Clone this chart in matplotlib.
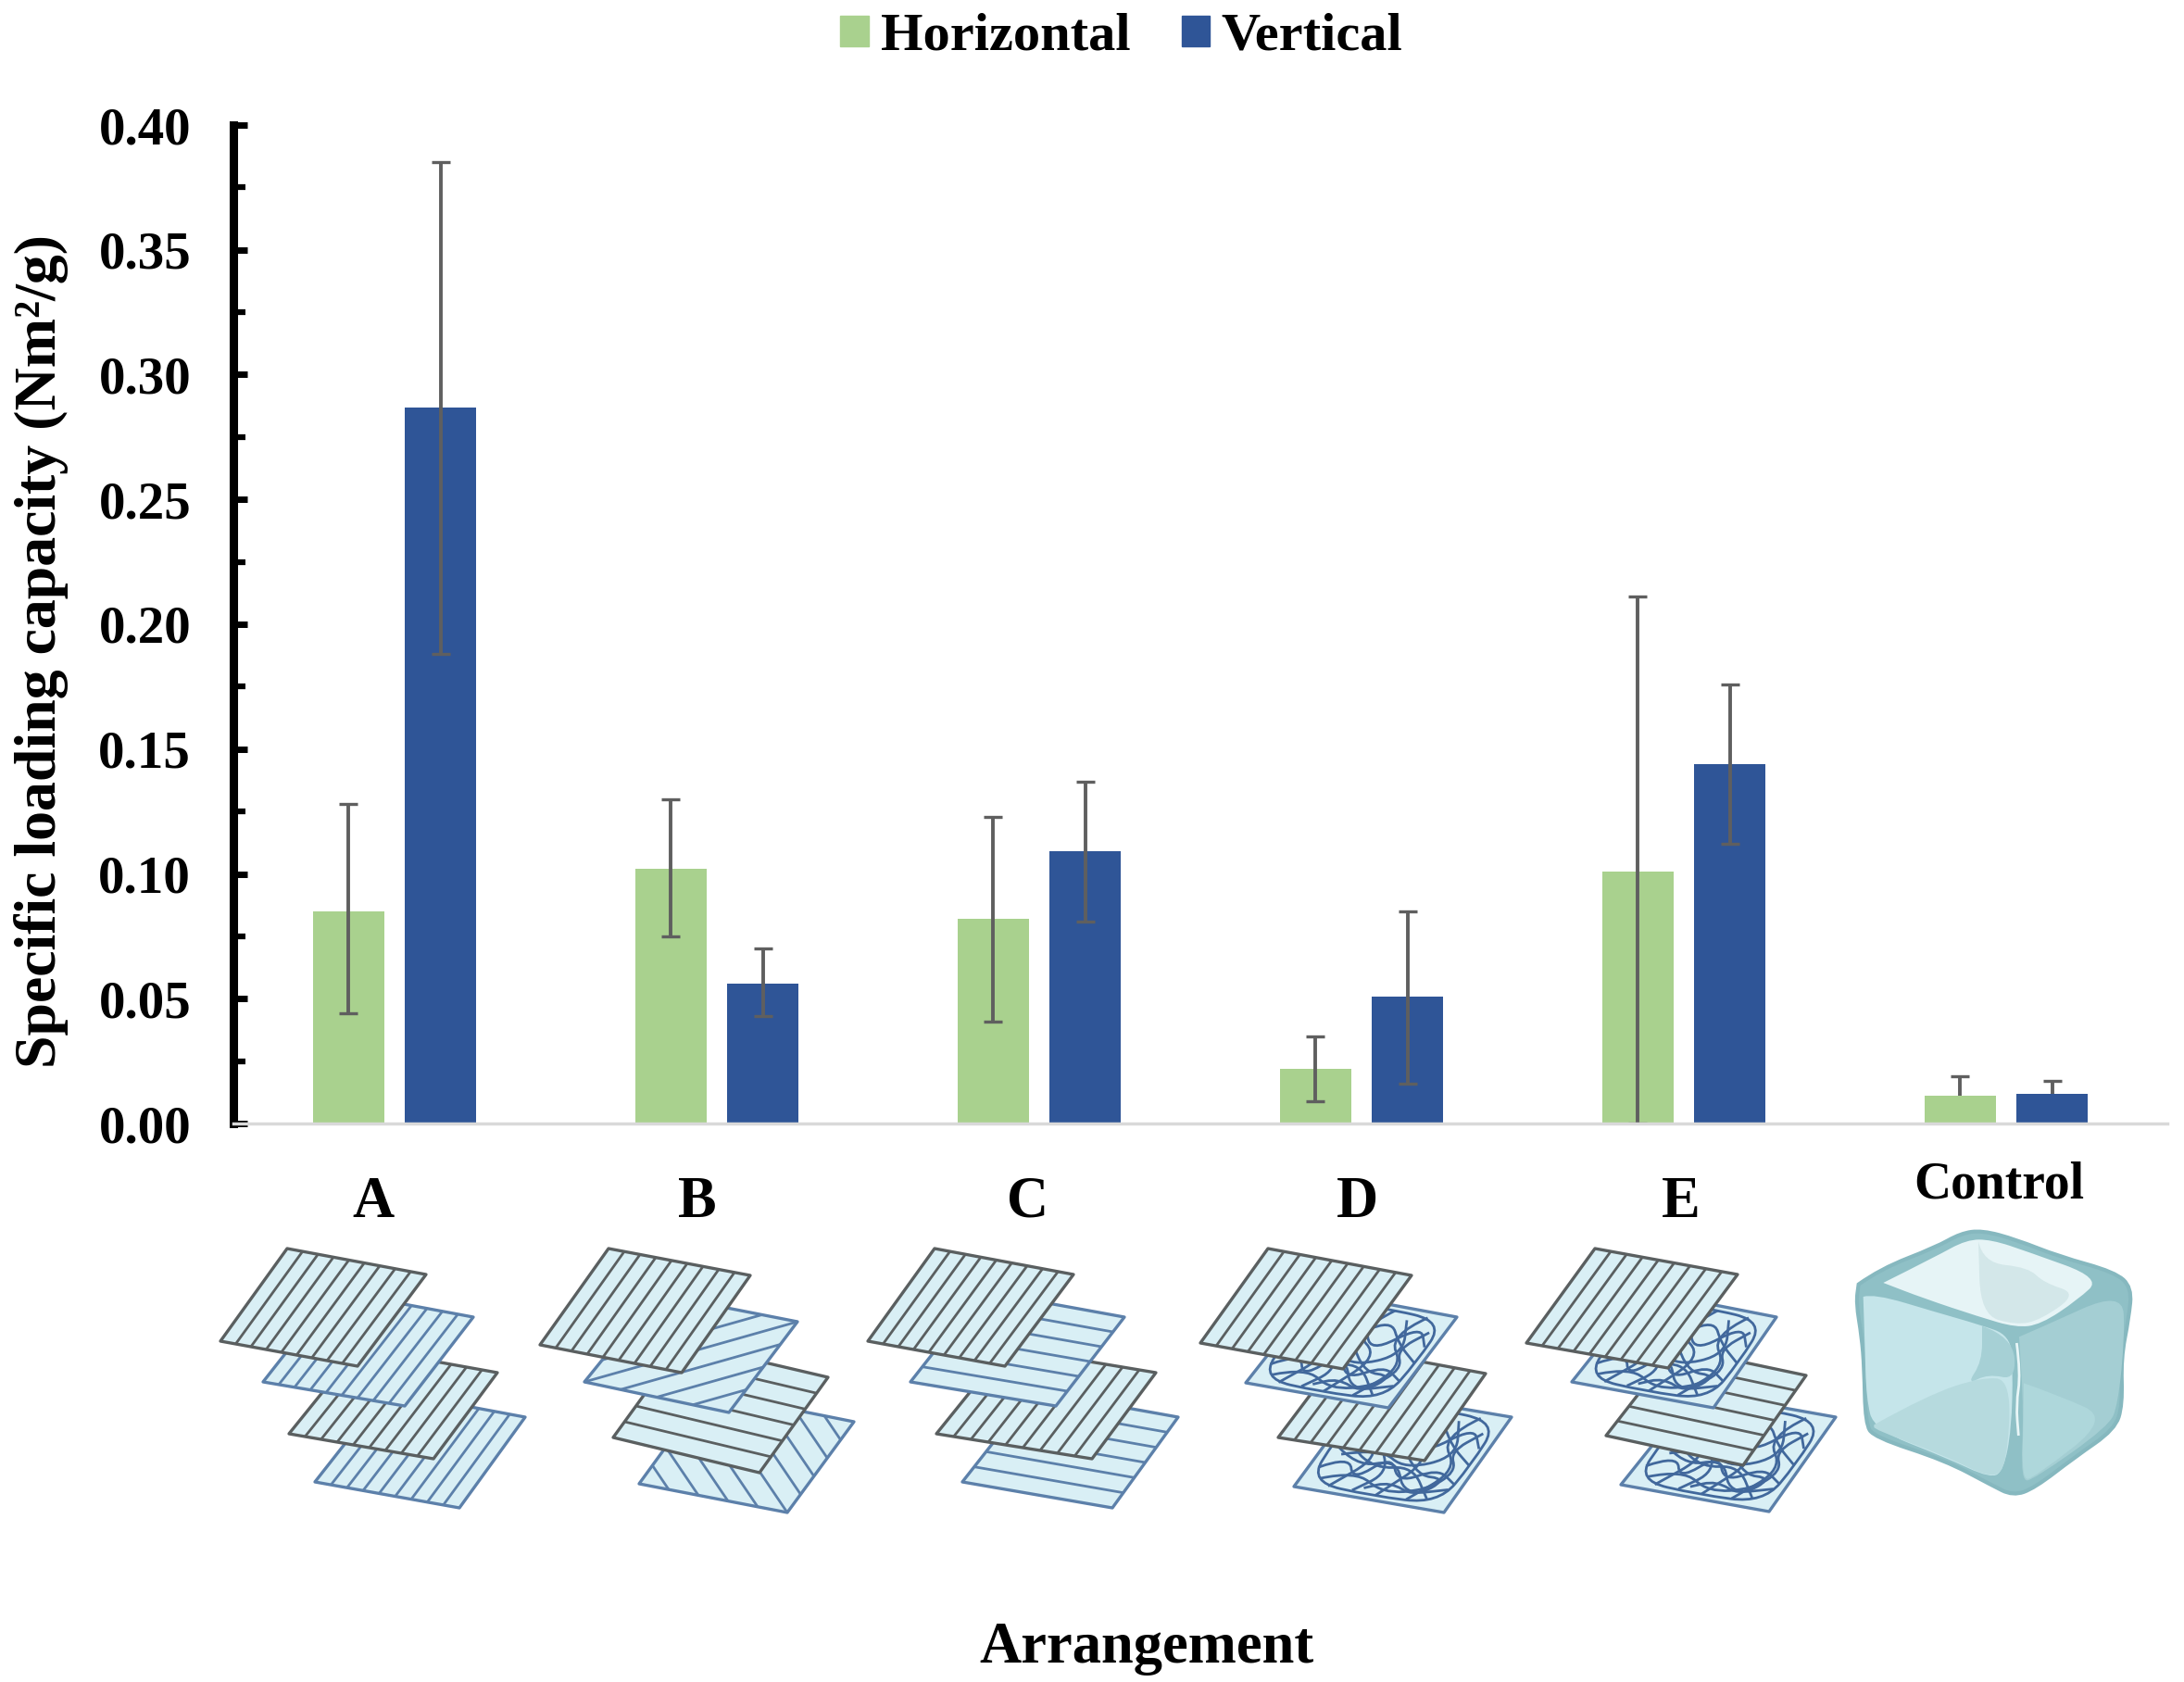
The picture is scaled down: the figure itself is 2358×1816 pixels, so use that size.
import numpy as np
import matplotlib
matplotlib.use('Agg')
import matplotlib.pyplot as plt
from matplotlib.patches import Patch, Polygon, PathPatch
from matplotlib.path import Path
from matplotlib.ticker import MultipleLocator, FormatStrFormatter

plt.rcParams['font.family'] = ['Liberation Serif', 'DejaVu Serif']
plt.rcParams['font.weight'] = 'bold'

W, H = 2358, 1816

# data, control only has the upper whisker
categories = ['A', 'B', 'C', 'D', 'E', 'Control']
horizontal = [0.085, 0.102, 0.082, 0.022, 0.101, 0.011]
horizontal_low = [0.044, 0.075, 0.041, 0.009, 0.000, 0.011]
horizontal_high = [0.128, 0.130, 0.123, 0.035, 0.211, 0.019]
vertical = [0.287, 0.056, 0.109, 0.051, 0.144, 0.012]
vertical_low = [0.188, 0.043, 0.081, 0.016, 0.112, 0.012]
vertical_high = [0.385, 0.070, 0.137, 0.085, 0.176, 0.017]

GREEN = '#a9d18e'
BLUE = '#2f5597'
ERR = '#5f5f5f'
SHEET = '#d9eff5'
EDGE_GREY = '#5a5f60'
EDGE_BLUE = '#5c80aa'

fig = plt.figure(figsize=(W / 100, H / 100), dpi=100)
ax = fig.add_axes([252 / W, 1 - 1213 / H, 2088 / W, 1078 / H])

x = np.arange(len(categories))
offset = 0.1427
width = 0.221
err_kw = dict(ecolor=ERR, elinewidth=2.8, capsize=7, capthick=2.4)
bars_h = ax.bar(x - offset, horizontal, width, color=GREEN, label='Horizontal',
                yerr=[np.array(horizontal) - np.array(horizontal_low),
                      np.array(horizontal_high) - np.array(horizontal)], error_kw=err_kw)
bars_v = ax.bar(x + offset, vertical, width, color=BLUE, label='Vertical',
                yerr=[np.array(vertical) - np.array(vertical_low),
                      np.array(vertical_high) - np.array(vertical)], error_kw=err_kw)

# drop the lower cap on the control bars
for bars, values in [(bars_h, horizontal), (bars_v, vertical)]:
    for cap in bars.errorbar.lines[1]:
        ydata = np.array(cap.get_ydata(), dtype=float)
        if ydata[5] <= values[5]:
            ydata[5] = np.nan
            cap.set_ydata(ydata)

ax.set_xlim(-0.5, 5.5)
ax.set_ylim(0, 0.40)
ax.set_xticks([])
ax.yaxis.set_major_locator(MultipleLocator(0.05))
ax.yaxis.set_minor_locator(MultipleLocator(0.025))
ax.yaxis.set_major_formatter(FormatStrFormatter('%.2f'))
ax.tick_params(axis='y', which='major', direction='in', length=11, width=5,
               labelsize=41, pad=33, color='black')
ax.tick_params(axis='y', which='minor', direction='in', length=9, width=4.5, color='black')
ax.yaxis.get_major_ticks()[0].tick1line.set_color('#b5b5b5')
ax.spines['top'].set_visible(False)
ax.spines['right'].set_visible(False)
ax.spines['left'].set_linewidth(6.5)
ax.spines['bottom'].set_color('#d9d9d9')
ax.spines['bottom'].set_linewidth(2.5)

# legend on top
handles = [Patch(color=GREEN, label='Horizontal'), Patch(color=BLUE, label='Vertical')]
fig.legend(handles=handles, loc='center', bbox_to_anchor=(1211 / W, 1 - 40 / H), ncol=2,
           frameon=False, fontsize=42, handlelength=0.52, handleheight=0.48,
           handletextpad=0.22, columnspacing=0.95)

# overlay in pixel coordinates for the labels and the sketches
ov = fig.add_axes([0, 0, 1, 1], zorder=5)
ov.set_xlim(0, W)
ov.set_ylim(H, 0)
ov.axis('off')
ov.patch.set_alpha(0)

fig.text(45 / W, 1 - 703 / H, 'Specific loading capacity (Nm²/g)', rotation=90,
         fontsize=46, ha='center', va='center')
ov.text(1238, 1780, 'Arrangement', fontsize=45, ha='center', va='center')

label_x = [403, 753, 1110, 1465, 1815, 2158]
label_y = [1299, 1299, 1299, 1299, 1299, 1280]
label_size = [45, 45, 45, 45, 45, 40]
for name, lx, ly, ls in zip(categories, label_x, label_y, label_size):
    ov.text(lx, ly, name, fontsize=ls, ha='center', va='center')

# wavy fibres of the random sheets, in sheet coordinates
tangle_curves = [
    [(0.06, 0.07), (0.5, 0.04), (0.94, 0.07), (0.96, 0.5), (0.93, 0.93), (0.5, 0.96), (0.07, 0.93), (0.04, 0.5), (0.06, 0.07)],
    [(0.06, 0.78), (0.2, 0.62), (0.32, 0.85), (0.45, 0.55), (0.6, 0.8), (0.78, 0.6), (0.94, 0.72)],
    [(0.08, 0.25), (0.25, 0.48), (0.45, 0.2), (0.62, 0.5), (0.82, 0.15), (0.94, 0.35)],
    [(0.28, 0.06), (0.16, 0.35), (0.38, 0.58), (0.2, 0.94)],
    [(0.58, 0.05), (0.42, 0.32), (0.7, 0.52), (0.52, 0.95)],
    [(0.82, 0.06), (0.66, 0.3), (0.9, 0.58), (0.72, 0.94)],
    [(0.05, 0.52), (0.28, 0.72), (0.5, 0.58), (0.68, 0.9), (0.93, 0.78)],
    [(0.42, 0.06), (0.6, 0.28), (0.32, 0.44), (0.5, 0.72), (0.36, 0.94)],
    [(0.12, 0.88), (0.3, 0.75), (0.55, 0.92), (0.8, 0.82), (0.9, 0.6), (0.78, 0.42), (0.9, 0.2)],
    [(0.05, 0.38), (0.22, 0.2), (0.4, 0.42), (0.6, 0.14), (0.76, 0.36), (0.95, 0.52)],
    [(0.14, 0.62), (0.35, 0.5), (0.58, 0.66), (0.84, 0.46), (0.7, 0.12)],
    [(0.1, 0.12), (0.3, 0.3), (0.15, 0.52), (0.4, 0.7), (0.62, 0.62), (0.84, 0.9)],
    [(0.48, 0.44), (0.66, 0.7), (0.88, 0.68), (0.76, 0.9), (0.55, 0.8), (0.42, 0.9)],
]


def smooth_path(points, closed=False):
    pts = [np.array(p, dtype=float) for p in points]
    verts = [pts[0]]
    codes = [Path.MOVETO]
    for a, b in zip(pts[1:-1], pts[2:]):
        verts += [a, (a + b) / 2]
        codes += [Path.CURVE3, Path.CURVE3]
    verts += [pts[-1]]
    codes += [Path.LINETO]
    if closed:
        verts.append(pts[0])
        codes.append(Path.CLOSEPOLY)
    return Path(verts, codes)


def sheet(corners, kind, edge, z):
    tl, tr, br, bl = [np.array(c, dtype=float) for c in corners]

    def pt(u, v):
        return (1 - v) * ((1 - u) * tl + u * tr) + v * ((1 - u) * bl + u * br)

    ov.add_patch(Polygon([tl, tr, br, bl], closed=True, fc=SHEET, ec=edge, lw=2.4,
                         joinstyle='round', zorder=z))
    lines = []
    if kind == 'vert':
        lines = [((u, 0), (u, 1)) for u in np.arange(1, 9) / 9]
    elif kind == 'horiz':
        lines = [((0, v), (1, v)) for v in np.arange(1, 6) / 6]
    elif kind == 'diag':
        for c in [0.25, 0.5, 0.75, 1.0, 1.25, 1.5, 1.75]:
            lines.append(((max(0, c - 1), min(1, c)), (min(1, c), max(0, c - 1))))
    elif kind == 'anti':
        for c in [-0.8, -0.6, -0.4, -0.2, 0, 0.2, 0.4, 0.6, 0.8]:
            lines.append(((max(0, c), max(0, -c)), (min(1, 1 + c), min(1, 1 - c))))
    for a, b in lines:
        p, q = pt(*a), pt(*b)
        ov.plot([p[0], q[0]], [p[1], q[1]], color=edge, lw=2.0, zorder=z, solid_capstyle='butt')
    if kind == 'tangle':
        for curve in tangle_curves:
            ov.add_patch(PathPatch(smooth_path([pt(*c) for c in curve]), fc='none',
                                   ec='#41689c', lw=2.0, zorder=z))


# corners of the sheets in picture pixels, top left first, clockwise
sheets_a = [[(310, 1348), (460, 1376), (386, 1475), (238, 1448)],
            [(361, 1394), (511, 1422), (437, 1518), (284, 1492)],
            [(387, 1455), (537, 1482), (468, 1575), (312, 1548)],
            [(417, 1502), (567, 1530), (496, 1628), (340, 1600)]]
sheets_b = [[(657, 1348), (810, 1377), (736, 1482), (583, 1452)],
            [(708, 1397), (861, 1427), (787, 1525), (631, 1492)],
            [(736, 1450), (894, 1487), (820, 1590), (662, 1552)],
            [(762, 1503), (922, 1535), (850, 1633), (690, 1602)]]
sheets_c = [[(1009, 1348), (1159, 1376), (1085, 1475), (937, 1448)],
            [(1060, 1394), (1214, 1422), (1140, 1518), (983, 1492)],
            [(1086, 1455), (1248, 1482), (1179, 1575), (1011, 1548)],
            [(1116, 1502), (1272, 1530), (1201, 1628), (1039, 1600)]]
sheets_d = [[(1369, 1348), (1524, 1377), (1450, 1478), (1296, 1450)],
            [(1423, 1394), (1573, 1422), (1499, 1520), (1345, 1493)],
            [(1453, 1455), (1604, 1483), (1538, 1577), (1380, 1552)],
            [(1472, 1503), (1632, 1530), (1559, 1633), (1397, 1605)]]
sheets_e = [[(1722, 1348), (1876, 1376), (1801, 1477), (1648, 1450)],
            [(1775, 1394), (1918, 1422), (1850, 1520), (1697, 1492)],
            [(1808, 1455), (1950, 1485), (1882, 1582), (1734, 1550)],
            [(1830, 1503), (1982, 1530), (1910, 1632), (1750, 1603)]]

stacks = [(sheets_a, ['vert', 'vert', 'vert', 'vert']),
          (sheets_b, ['vert', 'diag', 'horiz', 'anti']),
          (sheets_c, ['vert', 'horiz', 'vert', 'horiz']),
          (sheets_d, ['vert', 'tangle', 'vert', 'tangle']),
          (sheets_e, ['vert', 'tangle', 'horiz', 'tangle'])]
for corners, kinds in stacks:
    for i in [3, 2, 1, 0]:
        edge = EDGE_GREY if i % 2 == 0 else EDGE_BLUE
        sheet(corners[i], kinds[i], edge, 10 - i)

# ice cube of the control, traced at 3x from its top left corner
cube_origin = np.array([1990, 1310])
cube_outline = [(50, 230), (120, 180), (300, 110), (380, 65), (450, 55), (560, 85), (700, 140), (880, 190),
                (935, 240), (925, 340), (900, 470), (905, 620), (880, 700), (750, 790), (620, 890), (550, 915),
                (480, 880), (330, 800), (100, 725), (72, 680), (68, 500), (60, 400), (42, 290), (50, 230)]
cube_left = [(65, 270), (100, 260), (300, 320), (440, 360), (540, 395), (550, 500), (545, 700), (520, 830),
             (480, 860), (330, 790), (100, 700), (75, 600), (70, 420), (65, 270)]
cube_left_low = [(100, 685), (270, 590), (450, 530), (545, 540), (530, 820), (480, 860), (330, 785), (100, 700), (100, 685)]
cube_right = [(570, 400), (640, 370), (905, 250), (912, 400), (890, 620), (860, 690), (620, 860), (575, 870),
              (585, 640), (570, 400)]
cube_right_low = [(585, 550), (700, 590), (865, 665), (620, 855), (578, 865), (585, 640), (585, 550)]
cube_corner = [(450, 365), (550, 400), (560, 540), (470, 520), (400, 555), (450, 480), (450, 365)]
cube_top = [(130, 225), (300, 140), (400, 85), (480, 85), (600, 125), (835, 210), (760, 280), (640, 360),
            (560, 370), (440, 335), (260, 275), (130, 225)]
cube_top_shade = [(438, 90), (452, 160), (600, 175), (650, 225), (760, 260), (640, 345), (560, 362), (445, 328), (438, 90)]
cube_glint = [(562, 420), (575, 520), (560, 620), (568, 720)]


def cube_patch(points, fc, ec='none', lw=0, z=12, closed=True):
    pts = [cube_origin + np.array(p) / 3 for p in points]
    ov.add_patch(PathPatch(smooth_path(pts, closed=closed), fc=fc, ec=ec, lw=lw, zorder=z))


cube_patch(cube_outline, '#8fc0c6', ec='#86b8bf', lw=3)
cube_patch(cube_left, '#c5e5ea', z=13)
cube_patch(cube_left_low, '#b6dade', z=14)
cube_patch(cube_right, '#a4ced3', z=13)
cube_patch(cube_right_low, '#aed7db', z=14)
cube_patch(cube_corner, '#a6d0d5', z=14)
cube_patch(cube_top, '#e6f4f6', z=15)
cube_patch(cube_top_shade, '#d3e7e9', z=16)
cube_patch(cube_glint, 'none', ec='#e8f6f7', lw=2, z=16, closed=False)

fig.savefig('out.png', dpi=100, facecolor='white')
